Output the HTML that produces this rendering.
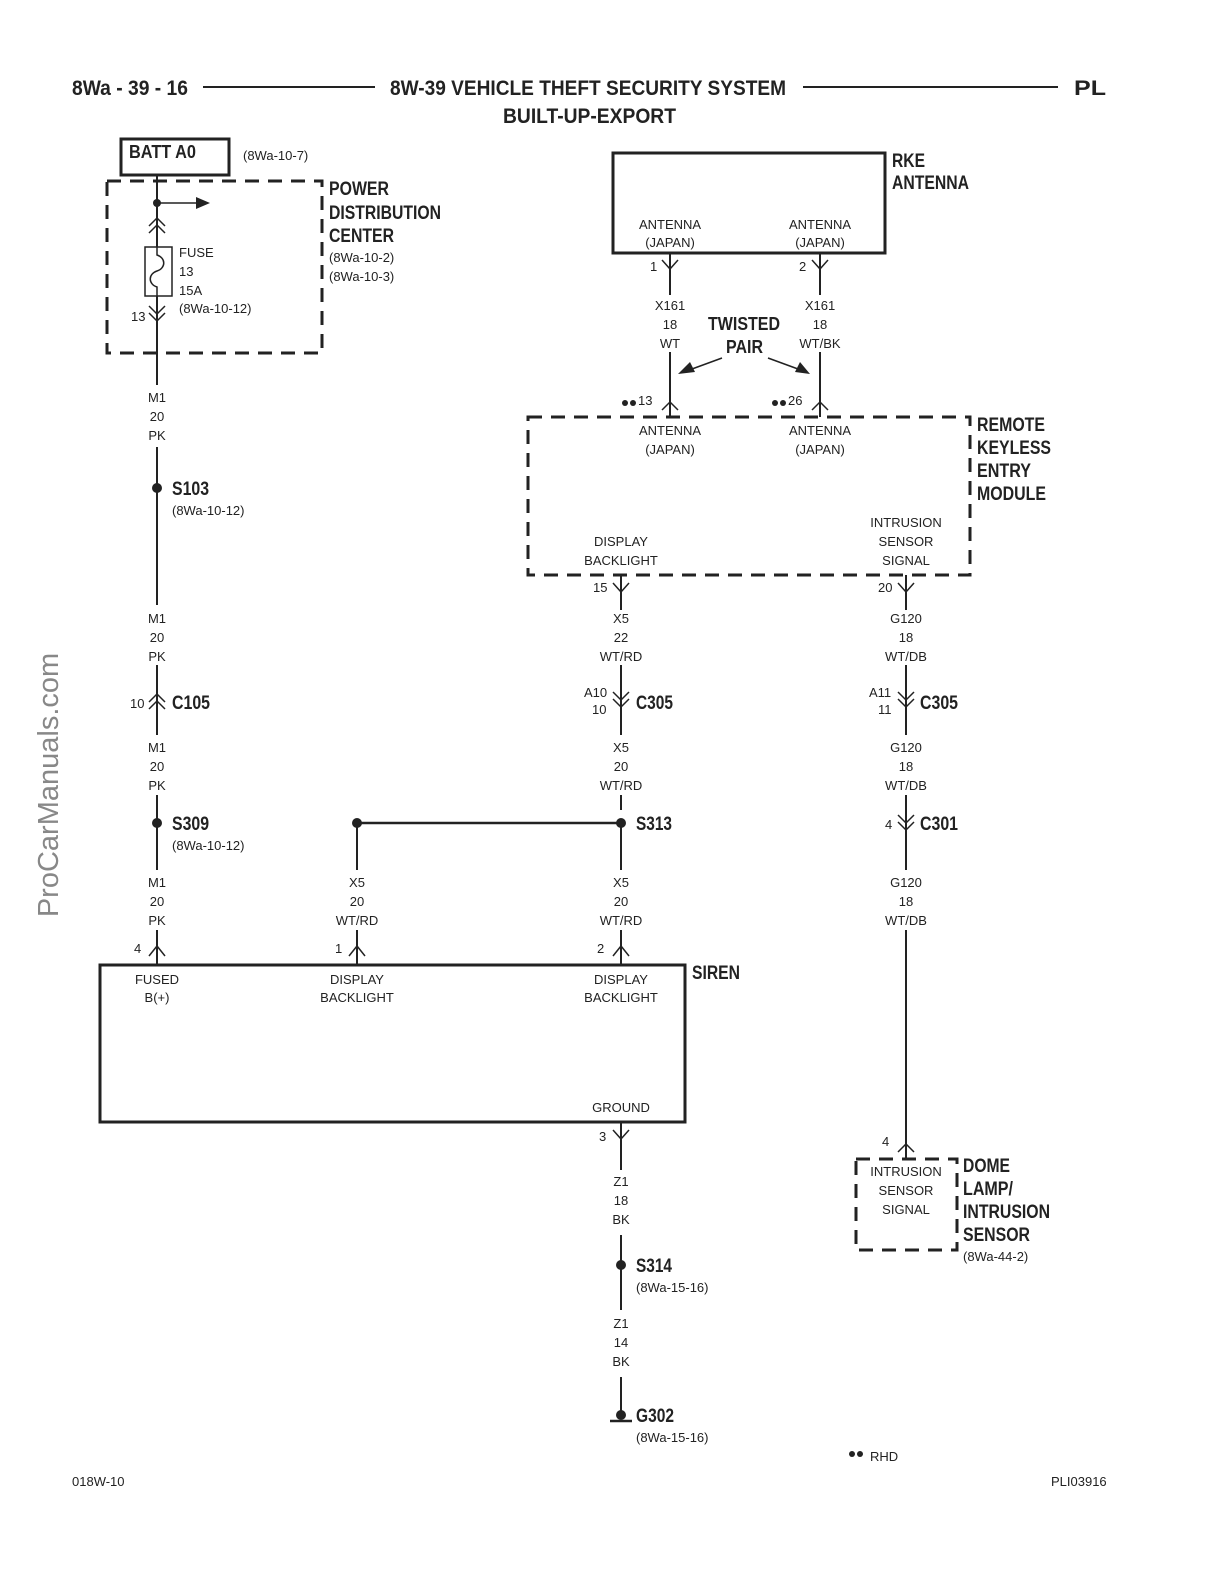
<!DOCTYPE html>
<html><head><meta charset="utf-8"><style>
html,body{margin:0;padding:0;background:#fff;overflow:hidden;width:1224px;height:1584px}
svg{display:block}
text{font-family:"Liberation Sans Narrow","Liberation Sans",sans-serif;fill:#222}
.s{font-size:13px}
.b{font-size:19px;font-weight:bold}
.m{text-anchor:middle}
</style></head><body>
<svg width="1224" height="1584" viewBox="0 0 1224 1584" xmlns="http://www.w3.org/2000/svg">
<g stroke="#222" fill="none" stroke-width="2">
<line x1="203" y1="87" x2="375" y2="87"/>
<line x1="803" y1="87" x2="1058" y2="87"/>
<rect x="121" y="139" width="108" height="36" stroke-width="3"/>
<rect x="107" y="181" width="215" height="172" stroke-width="3" stroke-dasharray="14,9"/>
<rect x="613" y="153" width="272" height="100" stroke-width="3"/>
<rect x="528" y="417" width="442" height="158" stroke-width="3" stroke-dasharray="14,9"/>
<rect x="100" y="965" width="585" height="157" stroke-width="3"/>
<rect x="856" y="1159" width="101" height="91" stroke-width="3" stroke-dasharray="14,9"/>

<line x1="157" y1="175" x2="157" y2="247"/>
<line x1="157" y1="296" x2="157" y2="385"/>
<line x1="157" y1="447" x2="157" y2="605"/>
<line x1="157" y1="665" x2="157" y2="735"/>
<line x1="157" y1="795" x2="157" y2="870"/>
<line x1="157" y1="930" x2="157" y2="965"/>
<line x1="157" y1="203" x2="198" y2="203" stroke-width="1.5"/>
<rect x="145" y="247" width="27" height="49" stroke-width="1.5"/>
<path d="M157 247 L157 255 C166 258 166 268 157 271 C148 274 148 284 157 287 L157 296" stroke-width="1.5"/>
<path d="M149 226 L157 218 L165 226 M149 233 L157 225 L165 233" stroke-width="1.5"/>
<path d="M149 306 L157 314 L165 306 M149 313 L157 321 L165 313" stroke-width="1.5"/>
<path d="M149 702 L157 694 L165 702 M149 709 L157 701 L165 709" stroke-width="1.5"/>
<path d="M149 956 L157 946 L165 956" stroke-width="1.5"/>

<line x1="357" y1="823" x2="621" y2="823" stroke-width="2.5"/>
<line x1="357" y1="823" x2="357" y2="870"/>
<line x1="357" y1="930" x2="357" y2="965"/>
<path d="M349 956 L357 946 L365 956" stroke-width="1.5"/>

<line x1="621" y1="575" x2="621" y2="610"/>
<path d="M613 583 L621 592 L629 583" stroke-width="1.5"/>
<line x1="621" y1="665" x2="621" y2="735"/>
<path d="M613 692 L621 700 L629 692 M613 699 L621 707 L629 699" stroke-width="1.5"/>
<line x1="621" y1="795" x2="621" y2="810"/>
<line x1="621" y1="823" x2="621" y2="870"/>
<line x1="621" y1="930" x2="621" y2="965"/>
<path d="M613 956 L621 946 L629 956" stroke-width="1.5"/>
<line x1="621" y1="1122" x2="621" y2="1170"/>
<path d="M613 1130 L621 1139 L629 1130" stroke-width="1.5"/>
<line x1="621" y1="1235" x2="621" y2="1310"/>
<line x1="621" y1="1377" x2="621" y2="1415"/>
<line x1="610" y1="1421" x2="632" y2="1421" stroke-width="2.5"/>

<line x1="670" y1="253" x2="670" y2="295"/>
<line x1="820" y1="253" x2="820" y2="295"/>
<path d="M662 260 L670 269 L678 260 M812 260 L820 269 L828 260" stroke-width="1.5"/>
<line x1="670" y1="352" x2="670" y2="417"/>
<line x1="820" y1="352" x2="820" y2="417"/>
<path d="M662 410 L670 402 L678 410 M812 410 L820 402 L828 410" stroke-width="1.5"/>
<line x1="722" y1="358" x2="692" y2="369" stroke-width="1.5"/>
<line x1="768" y1="358" x2="798" y2="369" stroke-width="1.5"/>

<line x1="906" y1="575" x2="906" y2="610"/>
<path d="M898 583 L906 592 L914 583" stroke-width="1.5"/>
<line x1="906" y1="665" x2="906" y2="735"/>
<path d="M898 692 L906 700 L914 692 M898 699 L906 707 L914 699" stroke-width="1.5"/>
<line x1="906" y1="795" x2="906" y2="870"/>
<path d="M898 815 L906 823 L914 815 M898 822 L906 830 L914 822" stroke-width="1.5"/>
<line x1="906" y1="930" x2="906" y2="1159"/>
<path d="M898 1152 L906 1144 L914 1152" stroke-width="1.5"/>
</g>
<g fill="#222">
<circle cx="157" cy="203" r="4"/>
<polygon points="196,197 210,203 196,209"/>
<circle cx="157" cy="488" r="5"/>
<circle cx="157" cy="823" r="5"/>
<circle cx="357" cy="823" r="5"/>
<circle cx="621" cy="823" r="5"/>
<circle cx="621" cy="1265" r="5"/>
<circle cx="621" cy="1415" r="5"/>
<polygon points="678,374 690,362 695,372"/>
<polygon points="810,374 795,372 800,362"/>
<circle cx="625" cy="403" r="3"/><circle cx="633" cy="403" r="3"/>
<circle cx="775" cy="403" r="3"/><circle cx="783" cy="403" r="3"/>
<circle cx="852" cy="1454" r="3"/><circle cx="860" cy="1454" r="3"/>
</g>

<text x="72" y="95" class="b" style="font-size:21px" textLength="116" lengthAdjust="spacingAndGlyphs">8Wa - 39 - 16</text>
<text x="390" y="95" class="b" style="font-size:21px" textLength="396" lengthAdjust="spacingAndGlyphs">8W-39 VEHICLE THEFT SECURITY SYSTEM</text>
<text x="503" y="123" class="b" style="font-size:21px" textLength="173" lengthAdjust="spacingAndGlyphs">BUILT-UP-EXPORT</text>
<text x="1074" y="95" class="b" style="font-size:21px" textLength="32" lengthAdjust="spacingAndGlyphs">PL</text>

<text x="129" y="158" class="b" style="font-size:18px" textLength="67" lengthAdjust="spacingAndGlyphs">BATT A0</text>
<text x="243" y="160" class="s">(8Wa-10-7)</text>
<text x="329" y="195" class="b" textLength="60" lengthAdjust="spacingAndGlyphs">POWER</text>
<text x="329" y="219" class="b" textLength="112" lengthAdjust="spacingAndGlyphs">DISTRIBUTION</text>
<text x="329" y="242" class="b" textLength="65" lengthAdjust="spacingAndGlyphs">CENTER</text>
<text x="329" y="262" class="s">(8Wa-10-2)</text>
<text x="329" y="281" class="s">(8Wa-10-3)</text>
<text x="179" y="257" class="s">FUSE</text>
<text x="179" y="276" class="s">13</text>
<text x="179" y="295" class="s">15A</text>
<text x="179" y="313" class="s">(8Wa-10-12)</text>
<text x="131" y="321" class="s">13</text>

<text x="157" y="402" class="s m">M1</text><text x="157" y="421" class="s m">20</text><text x="157" y="440" class="s m">PK</text>
<text x="157" y="623" class="s m">M1</text><text x="157" y="642" class="s m">20</text><text x="157" y="661" class="s m">PK</text>
<text x="157" y="752" class="s m">M1</text><text x="157" y="771" class="s m">20</text><text x="157" y="790" class="s m">PK</text>
<text x="157" y="887" class="s m">M1</text><text x="157" y="906" class="s m">20</text><text x="157" y="925" class="s m">PK</text>
<text x="357" y="887" class="s m">X5</text><text x="357" y="906" class="s m">20</text><text x="357" y="925" class="s m">WT/RD</text>
<text x="621" y="623" class="s m">X5</text><text x="621" y="642" class="s m">22</text><text x="621" y="661" class="s m">WT/RD</text>
<text x="621" y="752" class="s m">X5</text><text x="621" y="771" class="s m">20</text><text x="621" y="790" class="s m">WT/RD</text>
<text x="621" y="887" class="s m">X5</text><text x="621" y="906" class="s m">20</text><text x="621" y="925" class="s m">WT/RD</text>
<text x="906" y="623" class="s m">G120</text><text x="906" y="642" class="s m">18</text><text x="906" y="661" class="s m">WT/DB</text>
<text x="906" y="752" class="s m">G120</text><text x="906" y="771" class="s m">18</text><text x="906" y="790" class="s m">WT/DB</text>
<text x="906" y="887" class="s m">G120</text><text x="906" y="906" class="s m">18</text><text x="906" y="925" class="s m">WT/DB</text>
<text x="621" y="1186" class="s m">Z1</text><text x="621" y="1205" class="s m">18</text><text x="621" y="1224" class="s m">BK</text>
<text x="621" y="1328" class="s m">Z1</text><text x="621" y="1347" class="s m">14</text><text x="621" y="1366" class="s m">BK</text>
<text x="670" y="310" class="s m">X161</text><text x="670" y="329" class="s m">18</text><text x="670" y="348" class="s m">WT</text>
<text x="820" y="310" class="s m">X161</text><text x="820" y="329" class="s m">18</text><text x="820" y="348" class="s m">WT/BK</text>
<text x="670" y="229" class="s m">ANTENNA</text><text x="670" y="247" class="s m">(JAPAN)</text>
<text x="820" y="229" class="s m">ANTENNA</text><text x="820" y="247" class="s m">(JAPAN)</text>
<text x="670" y="435" class="s m">ANTENNA</text><text x="670" y="454" class="s m">(JAPAN)</text>
<text x="820" y="435" class="s m">ANTENNA</text><text x="820" y="454" class="s m">(JAPAN)</text>
<text x="621" y="546" class="s m">DISPLAY</text><text x="621" y="565" class="s m">BACKLIGHT</text>
<text x="906" y="527" class="s m">INTRUSION</text><text x="906" y="546" class="s m">SENSOR</text><text x="906" y="565" class="s m">SIGNAL</text>
<text x="157" y="984" class="s m">FUSED</text><text x="157" y="1002" class="s m">B(+)</text>
<text x="357" y="984" class="s m">DISPLAY</text><text x="357" y="1002" class="s m">BACKLIGHT</text>
<text x="621" y="984" class="s m">DISPLAY</text><text x="621" y="1002" class="s m">BACKLIGHT</text>
<text x="621" y="1112" class="s m">GROUND</text>
<text x="906" y="1176" class="s m">INTRUSION</text><text x="906" y="1195" class="s m">SENSOR</text><text x="906" y="1214" class="s m">SIGNAL</text>

<text x="708" y="330" class="b" style="font-size:18px" textLength="72" lengthAdjust="spacingAndGlyphs">TWISTED</text>
<text x="726" y="353" class="b" style="font-size:18px" textLength="37" lengthAdjust="spacingAndGlyphs">PAIR</text>
<text x="892" y="167" class="b" textLength="33" lengthAdjust="spacingAndGlyphs">RKE</text>
<text x="892" y="189" class="b" textLength="77" lengthAdjust="spacingAndGlyphs">ANTENNA</text>
<text x="977" y="431" class="b" textLength="68" lengthAdjust="spacingAndGlyphs">REMOTE</text>
<text x="977" y="454" class="b" textLength="74" lengthAdjust="spacingAndGlyphs">KEYLESS</text>
<text x="977" y="477" class="b" textLength="54" lengthAdjust="spacingAndGlyphs">ENTRY</text>
<text x="977" y="500" class="b" textLength="69" lengthAdjust="spacingAndGlyphs">MODULE</text>
<text x="692" y="979" class="b" textLength="48" lengthAdjust="spacingAndGlyphs">SIREN</text>
<text x="963" y="1172" class="b" textLength="47" lengthAdjust="spacingAndGlyphs">DOME</text>
<text x="963" y="1195" class="b" textLength="50" lengthAdjust="spacingAndGlyphs">LAMP/</text>
<text x="963" y="1218" class="b" textLength="87" lengthAdjust="spacingAndGlyphs">INTRUSION</text>
<text x="963" y="1241" class="b" textLength="67" lengthAdjust="spacingAndGlyphs">SENSOR</text>
<text x="963" y="1261" class="s">(8Wa-44-2)</text>

<text x="172" y="495" class="b" textLength="37" lengthAdjust="spacingAndGlyphs">S103</text><text x="172" y="515" class="s">(8Wa-10-12)</text>
<text x="172" y="709" class="b" textLength="38" lengthAdjust="spacingAndGlyphs">C105</text><text x="130" y="708" class="s">10</text>
<text x="172" y="830" class="b" textLength="37" lengthAdjust="spacingAndGlyphs">S309</text><text x="172" y="850" class="s">(8Wa-10-12)</text>
<text x="636" y="830" class="b" textLength="36" lengthAdjust="spacingAndGlyphs">S313</text>
<text x="636" y="709" class="b" textLength="37" lengthAdjust="spacingAndGlyphs">C305</text><text x="584" y="697" class="s">A10</text><text x="592" y="714" class="s">10</text>
<text x="920" y="709" class="b" textLength="38" lengthAdjust="spacingAndGlyphs">C305</text><text x="869" y="697" class="s">A11</text><text x="878" y="714" class="s">11</text>
<text x="920" y="830" class="b" textLength="38" lengthAdjust="spacingAndGlyphs">C301</text><text x="885" y="829" class="s">4</text>
<text x="636" y="1272" class="b" textLength="36" lengthAdjust="spacingAndGlyphs">S314</text><text x="636" y="1292" class="s">(8Wa-15-16)</text>
<text x="636" y="1422" class="b" textLength="38" lengthAdjust="spacingAndGlyphs">G302</text><text x="636" y="1442" class="s">(8Wa-15-16)</text>

<text x="593" y="592" class="s">15</text>
<text x="878" y="592" class="s">20</text>
<text x="650" y="271" class="s">1</text>
<text x="799" y="271" class="s">2</text>
<text x="638" y="405" class="s">13</text>
<text x="788" y="405" class="s">26</text>
<text x="134" y="953" class="s">4</text>
<text x="335" y="953" class="s">1</text>
<text x="597" y="953" class="s">2</text>
<text x="599" y="1141" class="s">3</text>
<text x="882" y="1146" class="s">4</text>
<text x="870" y="1461" class="s">RHD</text>
<text x="72" y="1486" class="s">018W-10</text>
<text x="1051" y="1486" class="s">PLI03916</text>

<text x="0" y="0" transform="translate(58,785) rotate(-90)" text-anchor="middle" style="font-family:'Liberation Sans',sans-serif;font-size:29px;fill:#888">ProCarManuals.com</text>
</svg>
</body></html>
